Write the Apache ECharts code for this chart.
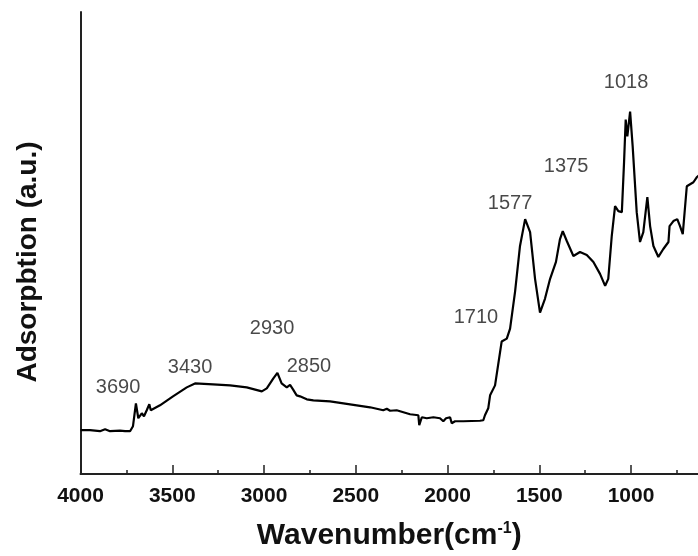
<!DOCTYPE html>
<html>
<head>
<meta charset="utf-8">
<script src="https://cdn.jsdelivr.net/npm/echarts@6/dist/echarts.min.js"></script>
<style>
html,body{margin:0;padding:0;background:#fff;}
#chart{width:698px;height:556px;}
</style>
</head>
<body>
<div id="chart"></div>
<script>
// Wavenumber (cm-1) of each traced point
var wavenumbers = [4000,3948,3894,3866,3839,3785,3757,3730,3714,3698,3685,3666,3654,3639,3625,3617,3567,3496,3421,3376,3278,3185,3094,3012,2985,2949,2927,2904,2876,2858,2842,2822,2804,2767,2731,2640,2531,2422,2350,2331,2313,2277,2204,2159,2154,2140,2113,2077,2041,2023,2008,1986,1977,1959,1914,1823,1805,1796,1778,1768,1741,1705,1677,1659,1632,1605,1577,1550,1523,1496,1469,1441,1409,1387,1372,1350,1314,1278,1241,1205,1169,1141,1124,1105,1087,1069,1050,1038,1029,1020,1005,991,969,951,933,924,911,896,878,851,824,796,790,769,748,733,718,696,678,660,642,624];
// Absorption (arbitrary units)
var absorption = [44,44,43,45,43,43.5,43,43,48,71,56,61,58,64,70,64,69,78,87,91,90,89,87,83,86,96,101.5,91,87,89.5,85,79,78,75,74,73,70,67,64,65.5,63.5,64,60,59,49,57,56,57,56,53,56,57,51,53,53,53.5,54,59,66,79,89,133,136,146,183,229,256,243,196,162,176,196,213,236,244,234,219,223,220,213,201,189,196,239,269,264,263,313,356,339,364,329,263,233,243,244,278,249,229,218,226,233,249,254,256,249,241,289,291,293,298,301];
// Peak annotations
var peakText = ['3690','3430','2930','2850','1710','1577','1375','1018'];
var peakLabelWn = [3795,3403,2956,2755,1845,1659,1354,1027];
var peakLabelVal = [87,107,146,108,157,272,309,393];
// Axis ticks
var xMajorTicks = [4000,3500,3000,2500,2000,1500,1000];
var xMinorTicks = [3750,3250,2750,2250,1750,1250,750];

var lineData = wavenumbers.map(function(w,i){return [w, absorption[i]];});
var labelData = peakText.map(function(t,i){return {name:t, value:[peakLabelWn[i], peakLabelVal[i]]};});

var FONT = 'Liberation Sans, Arial, sans-serif';
var chart = echarts.init(document.getElementById('chart'));
chart.setOption({
  animation:false,
  backgroundColor:'#fff',
  grid:{left:80.5, top:12, bottom:80, right:0},
  xAxis:[{
    type:'value', inverse:true, min:635, max:4000,
    axisLine:{show:true, lineStyle:{color:'#222', width:2}},
    axisTick:{show:true, inside:true, length:9, customValues:xMajorTicks, lineStyle:{color:'#222', width:1.5}},
    splitLine:{show:false},
    axisLabel:{fontFamily:FONT, fontWeight:'bold', fontSize:21, color:'#111', margin:12, customValues:xMajorTicks,
      formatter:function(v){return String(v);}},
    name:'Wavenumber(cm{sup|-1})',
    nameLocation:'middle', nameGap:47,
    nameTextStyle:{
      fontFamily:FONT, fontWeight:'bold', fontSize:30, color:'#111',
      rich:{sup:{fontFamily:FONT, fontWeight:'bold', fontSize:16, color:'#111', verticalAlign:'top', padding:[0,0,14,0]}}
    }
  },{
    type:'value', inverse:true, min:635, max:4000, position:'bottom',
    axisLine:{show:false},
    axisTick:{show:true, inside:true, length:4, customValues:xMinorTicks, lineStyle:{color:'#222', width:1.5}},
    axisLabel:{show:false}, splitLine:{show:false}
  }],
  yAxis:{
    type:'value', min:0, max:464,
    axisLine:{show:true, lineStyle:{color:'#222', width:2}},
    axisTick:{show:false}, axisLabel:{show:false}, splitLine:{show:false},
    name:'Adsorpbtion (a.u.)',
    nameLocation:'middle', nameRotate:90, nameGap:38,
    nameTextStyle:{fontFamily:FONT, fontWeight:'bold', fontSize:28, color:'#111', padding:[0,38,0,0]}
  },
  series:[
    {type:'line', data:lineData, showSymbol:false, symbol:'none', smooth:false, clip:true,
     lineStyle:{color:'#000', width:2.2}},
    {type:'scatter', data:labelData, symbolSize:0, silent:true,
     label:{show:true, position:'inside', formatter:'{b}', fontFamily:FONT, fontSize:20, color:'#1a1a1a'}}
  ]
});
</script>
</body>
</html>
